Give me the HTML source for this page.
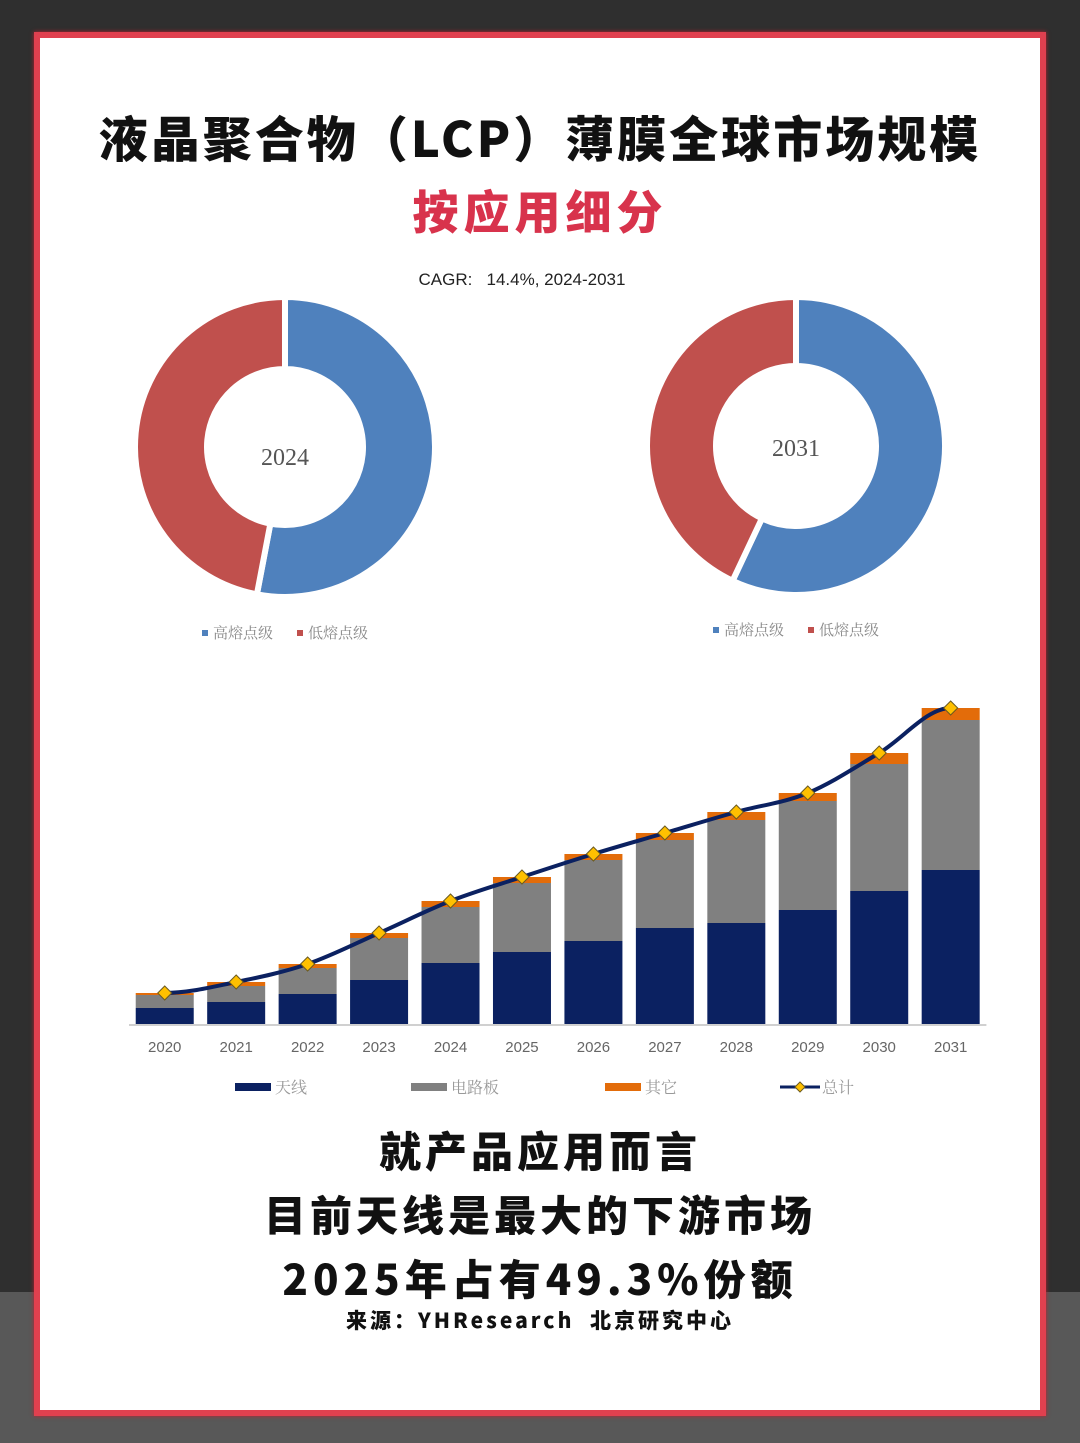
<!DOCTYPE html>
<html><head><meta charset="utf-8">
<style>
body{margin:0;width:1080px;height:1443px;overflow:hidden;background:#2f2f2f;position:relative;font-family:"Liberation Sans","Noto Sans CJK SC",sans-serif}
#bot{position:absolute;left:0;top:1292px;width:1080px;height:151px;background:#585858}
#frame{position:absolute;left:34px;top:32px;width:1000px;height:1372px;border:6px solid #e0404f;background:#fff;box-shadow:0 0 4px #c02030}
.t{position:absolute;left:0;width:1080px;text-align:center;font-family:"Noto Sans CJK SC",sans-serif;font-weight:900;color:#111;white-space:nowrap}
svg{position:absolute;left:0;top:0}
</style></head><body>
<div id="bot"></div>
<div id="frame"></div>
<div class="t" style="top:104px;font-size:49px;line-height:66px;letter-spacing:3px">液晶聚合物（LCP）薄膜全球市场规模</div>
<div class="t" style="top:178px;font-size:46px;line-height:64px;color:#d8334c;letter-spacing:5px">按应用细分</div>
<div class="t" style="top:268px;left:-18px;font-size:17px;font-weight:400;line-height:24px;color:#222;font-family:'Liberation Sans',sans-serif">CAGR:&nbsp;&nbsp; 14.4%, 2024-2031</div>
<div class="t" style="top:1120px;font-size:42px;line-height:60px;letter-spacing:4px">就产品应用而言</div>
<div class="t" style="top:1184px;font-size:42px;line-height:60px;letter-spacing:4px">目前天线是最大的下游市场</div>
<div class="t" style="top:1248px;font-size:42px;line-height:60px;letter-spacing:5px">2025年占有49.3%份额</div>
<div class="t" style="top:1306px;font-size:21px;line-height:28px;letter-spacing:3px">来源：YHResearch&nbsp;&nbsp;北京研究中心</div>
<svg id="chart" width="1080" height="1443"></svg>
<script>
const years=["2020","2021","2022","2023","2024","2025","2026","2027","2028","2029","2030","2031"];
const antenna=[16,22,30,44,61,72,83,96,101,114,133,154];
const pcb=[13,16,26,42,56,69,81,88,103,109,127,150];
const other=[2,4,4,5,6,6,6,7,8,8,11,12];
const share2024=[53,47];
const share2031=[57,43];
const donutLabels=["高熔点级","低熔点级"];
const NS="http://www.w3.org/2000/svg";
const svg=document.getElementById('chart');
function mk(tag,attrs,parent){const e=document.createElementNS(NS,tag);for(const k in attrs)e.setAttribute(k,attrs[k]);(parent||svg).appendChild(e);return e;}
function donut(cx,cy,R,r,vals,label,ly,legY,name){
  const g=mk('g',{});
  
  
  const cols=['#4f81bd','#c0504d'];const tot=vals.reduce((a,b)=>a+b,0);let a0=0;
  vals.forEach((v,i)=>{const a1=a0+v/tot*2*Math.PI;
    const p=(a,rr)=>[cx+rr*Math.sin(a),cy-rr*Math.cos(a)];
    const [x1,y1]=p(a0,R),[x2,y2]=p(a1,R),[x3,y3]=p(a1,r),[x4,y4]=p(a0,r);const lg=(a1-a0)>Math.PI?1:0;
    const s=mk('path',{d:`M${x1},${y1}A${R},${R} 0 ${lg} 1 ${x2},${y2}L${x3},${y3}A${r},${r} 0 ${lg} 0 ${x4},${y4}Z`,fill:cols[i],stroke:'#fff','stroke-width':6},g);
    
    
    a0=a1;});
  const t=mk('text',{x:cx,y:ly,'text-anchor':'middle','font-size':24,fill:'#555','font-family':'Liberation Serif,serif'},g);t.textContent=label;
  
  
  let lx=cx-83;
  donutLabels.forEach((l,i)=>{const sq=mk('rect',{x:lx,y:legY-4,width:6,height:6,fill:cols[i]},g);
    
    
    const tt=mk('text',{x:lx+11,y:legY+4,'font-size':15,fill:'#888','font-family':'Noto Serif CJK SC,serif'},g);tt.textContent=l;
    
    
    lx+=95;});
}
donut(285,447,150,78,share2024,"2024",465,634,"donut-2024");
donut(796,446,149,80,share2031,"2031",456,631,"donut-2031");
const base=1024,x0=129,step=71.45,bw=58,ys=1.0;
const X=i=>x0+step*(i+0.5), Y=v=>base-v*ys;
const bars=mk('g',{});


const pts=[];
years.forEach((yr,i)=>{
  const s=[antenna[i],pcb[i],other[i]],cols=['#0b2161','#808080','#e36c0a'],nm=['antenna','pcb','other'];let acc=0;
  s.forEach((v,j)=>{const r=mk('rect',{x:X(i)-bw/2,y:Y(acc+v),width:bw,height:v*ys,fill:cols[j]},bars);
    
    
    acc+=v;});
  pts.push([X(i),Y(acc)]);
  const t=mk('text',{x:X(i),y:1052,'text-anchor':'middle','font-size':15,fill:'#666'},bars);t.textContent=yr;
  
  
});
const ax=mk('line',{x1:x0,x2:x0+step*12,y1:base+1,y2:base+1,stroke:'#d0d0d0','stroke-width':2},bars);


let d='M'+pts[0].join(',');for(let i=1;i<pts.length;i++){const [a,b]=pts[i-1],[c,e]=pts[i];const dx=(c-a)/3;d+=`C${a+dx},${b+(i>1?(e-pts[i-2][1])/6:0)} ${c-dx},${e-(i<pts.length-1?(pts[i+1][1]-b)/6:0)} ${c},${e}`;}
const ln=mk('path',{d,fill:'none',stroke:'#0b2161','stroke-width':4},bars);


pts.forEach((p,i)=>{const m=mk('path',{d:`M${p[0]},${p[1]-7}L${p[0]+7},${p[1]}L${p[0]},${p[1]+7}L${p[0]-7},${p[1]}Z`,fill:'#ffc000',stroke:'#6b5a20','stroke-width':1},bars);
  
  });
const leg=[["天线",'#0b2161',235],["电路板",'#808080',411],["其它",'#e36c0a',605]];
leg.forEach(l=>{const r=mk('rect',{x:l[2],y:1083,width:36,height:8,fill:l[1]});
  
  
  const t=mk('text',{x:l[2]+40,y:1093,'font-size':16,fill:'#999','font-family':'Noto Serif CJK SC,serif'});t.textContent=l[0];
  
  });
const ll=mk('line',{x1:780,x2:820,y1:1087,y2:1087,stroke:'#0b2161','stroke-width':3});


const lm=mk('path',{d:'M800,1082L805,1087L800,1092L795,1087Z',fill:'#ffc000',stroke:'#6b5a20'});


const lt=mk('text',{x:822,y:1093,'font-size':16,fill:'#999','font-family':'Noto Serif CJK SC,serif'});lt.textContent="总计";


</script>
</body></html>
